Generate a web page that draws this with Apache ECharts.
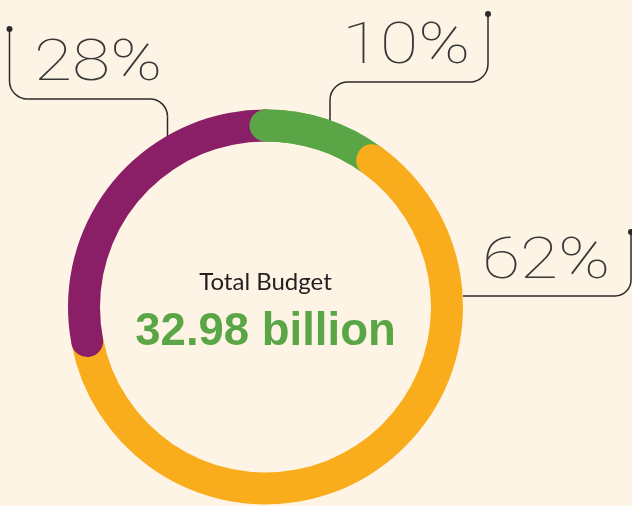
<!DOCTYPE html>
<html>
<head>
<meta charset="utf-8">
<style>
  html, body { margin: 0; padding: 0; background: #fdf4e5; }
  #chart { width: 632px; height: 506px; }
</style>
<script src="https://cdn.jsdelivr.net/npm/echarts@6/dist/echarts.min.js"></script>
</head>
<body>
<div id="chart"></div>
<script>
// budget split, clockwise from the top
const segments = ['Share A', 'Share B', 'Share C'];
const shares = [10, 62, 28];
const colors = ['#5aa646', '#f9ad1c', '#8a1f68'];
const totalLabel = 'Total Budget';
const totalValue = '32.98 billion';

const center = [265.5, 307];
const ringRadius = [165.5, 197.5];

const chart = echarts.init(document.getElementById('chart'));

const ringSeries = segments.map((name, i) => ({
  name: name,
  type: 'bar',
  coordinateSystem: 'polar',
  polarIndex: 0,
  stack: 'ring',
  roundCap: true,
  barCategoryGap: '0%',
  silent: true,
  data: [shares[i]],
  itemStyle: { color: colors[i] },
}));
// first half of the green arc again, on top, so its start cap sits over the purple end
ringSeries.push({
  type: 'bar',
  coordinateSystem: 'polar',
  polarIndex: 1,
  roundCap: true,
  barCategoryGap: '0%',
  silent: true,
  z: 3,
  data: [shares[0] / 2],
  itemStyle: { color: colors[0] },
});

const ink = '#2a2a2a';
const lineStyle = { fill: null, stroke: ink, lineWidth: 1.5 };
const seg = (x1, y1, x2, y2) => ({ type: 'line', shape: { x1, y1, x2, y2 }, style: lineStyle });
const corner = (cx, cy, r, a0, a1) => ({
  type: 'arc', shape: { cx, cy, r, startAngle: a0, endAngle: a1, clockwise: true }, style: lineStyle,
});
const dot = (cx, cy) => ({ type: 'circle', shape: { cx, cy, r: 3 }, style: { fill: ink } });
const PI = Math.PI;

const pctStyle = (txt) => ({
  text: txt,
  font: '100 58px Roboto',
  fill: '#383838',
  verticalAlign: 'middle',
});

chart.setOption({
  backgroundColor: '#fdf4e5',
  animation: false,
  polar: [
    { center: center, radius: ringRadius },
    { center: center, radius: ringRadius },
  ],
  angleAxis: [0, 1].map(i => ({
    polarIndex: i, type: 'value', min: 0, max: 100, startAngle: 90, clockwise: true, show: false,
  })),
  radiusAxis: [0, 1].map(i => ({
    polarIndex: i, type: 'category', data: ['budget'], show: false,
  })),
  series: ringSeries,
  graphic: [
    // 28% leader
    seg(9.5, 29, 9.5, 81), corner(27.5, 81, 18, PI / 2, PI),
    seg(27.5, 99, 150, 99), corner(150, 116.5, 17.5, -PI / 2, 0),
    seg(167.5, 116.5, 167.5, 138), dot(9.5, 29),
    // 10% leader
    seg(488, 14, 488, 64), corner(470, 64, 18, 0, PI / 2),
    seg(470, 82, 348, 82), corner(348, 100, 18, PI, PI * 1.5),
    seg(330, 100, 330, 123), dot(488, 14),
    // 62% leader
    seg(631, 232, 631, 280), corner(615, 280, 16, 0, PI / 2),
    seg(615, 296, 463, 296), dot(631, 232),
    // percentages
    { type: 'text', x: 34, y: 65, scaleX: 1.2, style: pctStyle(shares[2] + '%') },
    { type: 'text', x: 342, y: 48, scaleX: 1.2, style: pctStyle(shares[0] + '%') },
    { type: 'text', x: 482, y: 263, scaleX: 1.2, style: pctStyle(shares[1] + '%') },
    // centre
    { type: 'text', x: center[0], y: 282, style: { text: totalLabel, font: '24px Lato', fill: '#231f20', textAlign: 'center', verticalAlign: 'middle' } },
    { type: 'text', x: center[0], y: 332, style: { text: totalValue, font: 'bold 45.5px "Liberation Sans"', fill: '#5aa646', textAlign: 'center', verticalAlign: 'middle' } },
  ],
});
</script>
</body>
</html>
